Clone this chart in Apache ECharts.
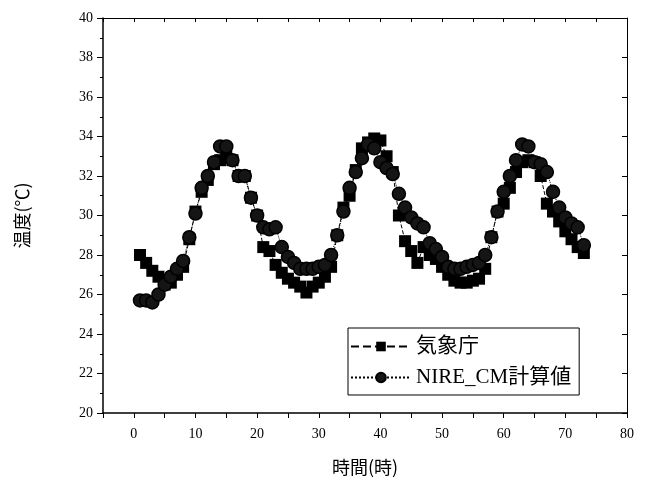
<!DOCTYPE html>
<html>
<head>
<meta charset="utf-8">
<script src="https://cdn.jsdelivr.net/npm/echarts@6/dist/echarts.min.js"></script>
<style>
  html, body { margin: 0; padding: 0; background: #fff; }
  #chart { width: 649px; height: 482px; }
</style>
</head>
<body>
<div id="chart"></div>
<script>
// 時間 (hours)
var hours = [];
for (var i = 1; i <= 73; i++) hours.push(i);

// 気象庁 observed temperature
var jmaTemp = [
  28.0, 27.6, 27.2, 26.9, 26.5, 26.6, 27.0, 27.4, 28.8, 30.2,
  31.2, 31.8, 32.6, 32.8, 33.0, 32.8, 32.0, 32.0, 30.9, 30.0,
  28.4, 28.2, 27.5, 27.1, 26.8, 26.6, 26.4, 26.1, 26.4, 26.6,
  26.9, 27.4, 29.0, 30.4, 31.0, 32.3, 33.4, 33.7, 33.9, 33.8,
  33.0, 32.2, 30.0, 28.7, 28.2, 27.6, 28.4, 28.0, 27.8, 27.4,
  27.0, 26.7, 26.6, 26.6, 26.7, 26.8, 27.3, 28.9, 30.2, 30.6,
  31.4, 32.2, 32.7, 32.8, 32.7, 32.0, 30.6, 30.2, 29.7, 29.2,
  28.8, 28.4, 28.1
]

// NIRE_CM計算値 calculated temperature
var nireTemp = [
  25.7, 25.7, 25.6, 26.0, 26.5, 26.9, 27.3, 27.7, 28.9, 30.1,
  31.4, 32.0, 32.7, 33.5, 33.5, 32.8, 32.0, 32.0, 30.9, 30.0,
  29.4, 29.3, 29.4, 28.4, 27.9, 27.6, 27.3, 27.3, 27.3, 27.4,
  27.5, 28.0, 29.0, 30.2, 31.4, 32.2, 32.9, 33.6, 33.4, 32.7,
  32.4, 32.1, 31.1, 30.4, 29.9, 29.6, 29.4, 28.6, 28.3, 27.9,
  27.4, 27.3, 27.3, 27.4, 27.5, 27.6, 28.0, 28.9, 30.2, 31.2,
  32.0, 32.8, 33.6, 33.5, 32.7, 32.6, 32.2, 31.2, 30.4, 29.9,
  29.6, 29.4, 28.5
]

var serif = '"Liberation Serif", "Noto Sans CJK JP", serif'
var jp = '"Noto Sans CJK JP", "Liberation Serif", sans-serif'

function pairs (xs, ys) {
  return xs.map(function (x, i) { return [x, ys[i]] })
}

var myChart = echarts.init(document.getElementById('chart'))
myChart.setOption({
  animation: false,
  backgroundColor: '#fff',
  grid: { left: 103, right: 22, top: 18, bottom: 69 },
  legend: {
    orient: 'vertical',
    left: 348,
    top: 328,
    width: 232,
    padding: [8, 8, 7, 2],
    itemGap: 10,
    itemWidth: 60,
    itemHeight: 12,
    borderColor: '#000',
    borderWidth: 1,
    textStyle: { fontFamily: serif, fontSize: 21, color: '#000' },
    data: ['気象庁', 'NIRE_CM計算値']
  },
  xAxis: [{
    type: 'value',
    min: -5,
    max: 80,
    interval: 5,
    name: '時間(時)',
    nameLocation: 'middle',
    nameGap: 45,
    nameTextStyle: { fontFamily: jp, fontSize: 18, color: '#000' },
    axisLine: { onZero: false, lineStyle: { color: '#000', width: 1.5 } },
    axisTick: { length: 5, lineStyle: { color: '#000' } },
    splitLine: { show: false },
    axisLabel: {
      fontFamily: serif,
      fontSize: 14,
      color: '#000',
      margin: 14,
      formatter: function (v) { return (v % 10 === 0) ? String(v) : '' }
    }
  }, {
    type: 'value',
    position: 'top',
    min: -5,
    max: 80,
    interval: 5,
    axisLine: { show: true, onZero: false, lineStyle: { color: '#000', width: 1 } },
    axisTick: { inside: true, length: 4, lineStyle: { color: '#000' } },
    axisLabel: { show: false },
    splitLine: { show: false }
  }],
  yAxis: [{
    type: 'value',
    min: 20,
    max: 40,
    interval: 2,
    name: '温度(℃)',
    nameLocation: 'middle',
    nameGap: 72,
    nameTextStyle: { fontFamily: jp, fontSize: 18, color: '#000' },
    axisLine: { show: true, onZero: false, lineStyle: { color: '#000', width: 1.5 } },
    axisTick: { show: true, length: 6, lineStyle: { color: '#000' } },
    minorTick: { show: true, splitNumber: 2, length: 3, lineStyle: { color: '#000' } },
    splitLine: { show: false },
    axisLabel: { fontFamily: serif, fontSize: 14, color: '#000', margin: 10 }
  }, {
    type: 'value',
    position: 'right',
    min: 20,
    max: 40,
    interval: 2,
    axisLine: { show: true, onZero: false, lineStyle: { color: '#000', width: 1 } },
    axisTick: { show: true, inside: true, length: 5, lineStyle: { color: '#000' } },
    axisLabel: { show: false },
    splitLine: { show: false }
  }],
  series: [
    {
      name: '気象庁',
      type: 'line',
      data: pairs(hours, jmaTemp),
      symbol: 'rect',
      symbolSize: 12,
      itemStyle: { color: '#000' },
      lineStyle: { color: '#000', width: 1, type: 'dashed' },
      z: 2
    },
    {
      name: 'NIRE_CM計算値',
      type: 'line',
      data: pairs(hours, nireTemp),
      symbol: 'circle',
      symbolSize: 13,
      itemStyle: { color: '#151515', borderColor: '#000', borderWidth: 1.5 },
      lineStyle: { color: '#000', width: 1, type: 'dotted' },
      z: 3
    }
  ]
})
</script>
</body>
</html>
